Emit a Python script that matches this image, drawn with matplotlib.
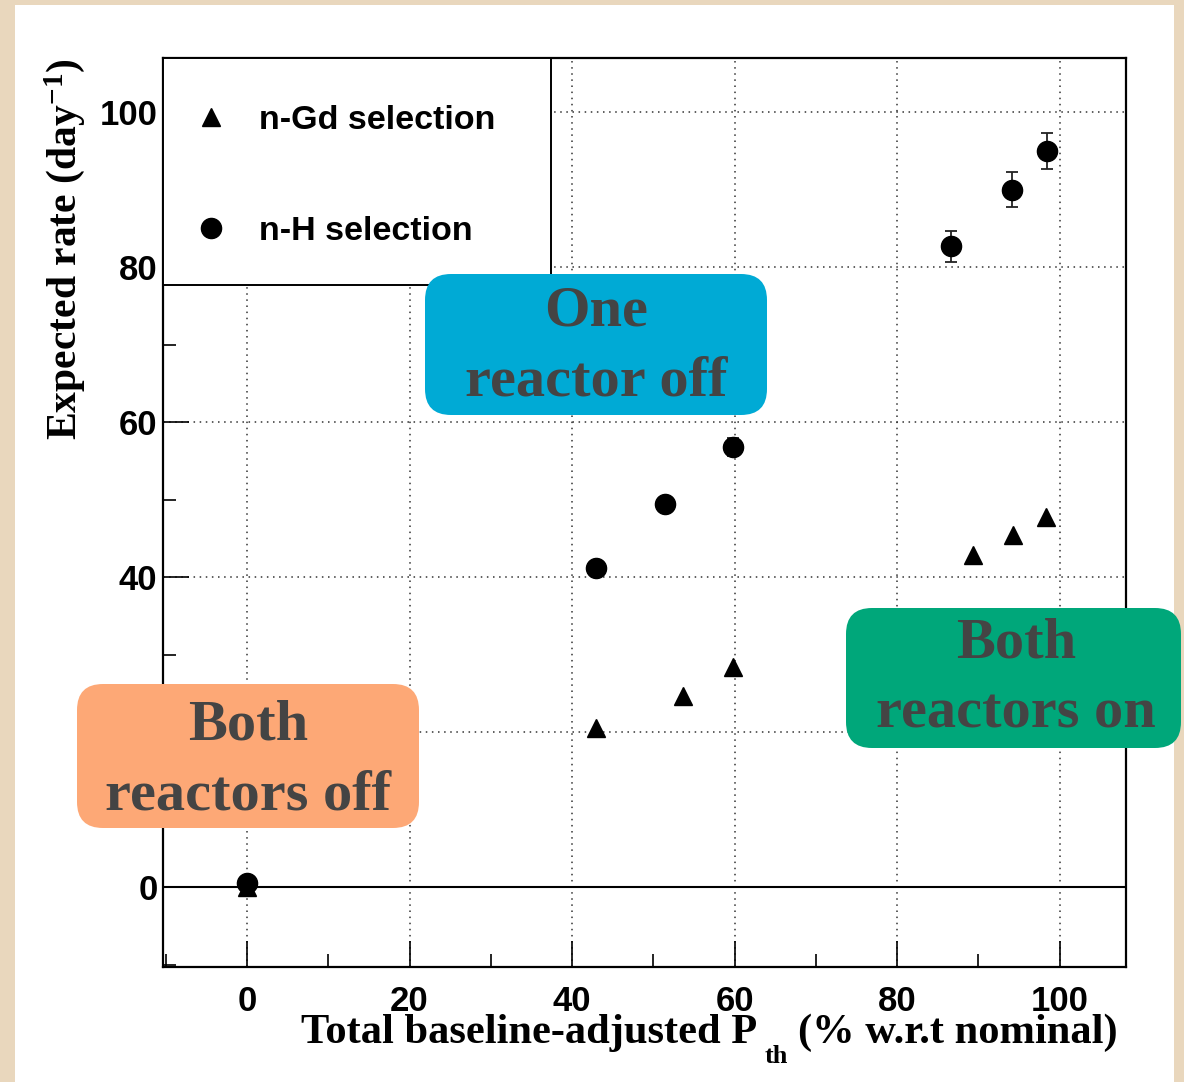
import matplotlib
matplotlib.use("Agg")
import matplotlib.pyplot as plt
from matplotlib.patches import FancyBboxPatch, Rectangle
from matplotlib.lines import Line2D
from matplotlib.ticker import MultipleLocator

# ---------------- data ----------------
power_gd = [0.0, 43.0, 53.6, 59.8, 89.4, 94.3, 98.3]
rate_gd = [0.0, 20.5, 24.6, 28.4, 42.8, 45.4, 47.8]
power_h = [0.0, 43.0, 51.4, 59.8, 86.7, 94.1, 98.4]
rate_h = [0.5, 41.1, 49.4, 56.8, 82.7, 90.0, 95.0]
err_h = [0.3, 0.5, 0.6, 1.2, 2.0, 2.2, 2.3]
legend_labels = ["n-Gd selection", "n-H selection"]
xticks = [0, 20, 40, 60, 80, 100]
yticks = [0, 20, 40, 60, 80, 100]
region_labels = ["One\nreactor off", "Both\nreactors on", "Both\nreactors off"]
region_colors = ["#00AAD5", "#00A77A", "#FDA876"]

# ---------------- style ----------------
W, H, DPI = 1184, 1082, 100
plt.rcParams["font.family"] = ["Liberation Sans", "DejaVu Sans"]
plt.rcParams["font.weight"] = "bold"
plt.rcParams["mathtext.fontset"] = "custom"
plt.rcParams["mathtext.rm"] = "Liberation Serif:bold"
plt.rcParams["mathtext.it"] = "Liberation Serif:bold"
plt.rcParams["mathtext.bf"] = "Liberation Serif:bold"

fig = plt.figure(figsize=(W / DPI, H / DPI), dpi=DPI, facecolor="#E9D7BD")
pix = fig.dpi_scale_trans  # inches


def P(x, y):
    """pixel (from top-left) -> inches (from bottom-left)"""
    return x / DPI, (H - y) / DPI


# white sheet
x0, y0 = P(15, 1082)
fig.add_artist(Rectangle((x0, y0), (1174 - 15) / DPI, (1082 - 5) / DPI,
                         transform=pix, facecolor="white", edgecolor="none", zorder=-5))

ax = fig.add_axes([163 / W, (H - 967) / H, (1126 - 163) / W, (967 - 58) / H])
ax.set_facecolor("white")
ax.set_xlim(-10.34, 108.18)
ax.set_ylim(-10.32, 106.97)

ax.set_xticks(xticks)
ax.set_yticks(yticks)
ax.xaxis.set_minor_locator(MultipleLocator(10))
ax.yaxis.set_minor_locator(MultipleLocator(10))
ax.tick_params(which="major", direction="in", length=19, width=1.2,
               top=False, right=False, labelsize=25)
ax.tick_params(which="minor", direction="in", length=9.5, width=1.2,
               top=False, right=False)
ax.tick_params(axis="x", pad=13)
ax.tick_params(axis="y", pad=4)
for lab in ax.get_xticklabels() + ax.get_yticklabels():
    lab.set_fontweight("bold")
for s in ax.spines.values():
    s.set_linewidth(1.6)

ax.grid(True, which="major", linestyle=(0, (1, 3)), linewidth=1.1, color="#333333")
ax.axhline(0, color="black", linewidth=1.5, zorder=1.6)

# data
ax.plot(power_gd, rate_gd, linestyle="none", marker="^", markersize=13.5,
        color="black", zorder=3)
ax.errorbar(power_h, rate_h, yerr=err_h, fmt="o", markersize=14.5, color="black",
            ecolor="#222222", elinewidth=1.3, capsize=4, capthick=1.3, zorder=3)

# legend
ax.add_patch(Rectangle((0, 0.750), 0.403, 0.25, transform=ax.transAxes,
                       facecolor="white", edgecolor="black", linewidth=1.4,
                       zorder=4, clip_on=False))
handles = [Line2D([], [], marker="^", ls="none", color="black", markersize=13.5),
           Line2D([], [], marker="o", ls="none", color="black", markersize=14.5)]
leg = ax.legend(handles, legend_labels, loc="center left",
                bbox_to_anchor=(0.0332, 0.8702), frameon=False,
                prop={"family": "Liberation Sans", "weight": "bold", "size": 24.5},
                labelspacing=2.33, handlelength=0.95, handletextpad=0.92,
                borderpad=0, borderaxespad=0)
leg.set_zorder(5)

# axis labels
serif = {"family": "Liberation Serif", "weight": "bold"}
fig.text(*P(65, 58), "Expected rate (day$^{-1}$)", transform=pix, rotation=90,
         ha="center", va="top", fontsize=30, **serif)
fig.text(*P(757, 1043), "Total baseline-adjusted P", transform=pix,
         ha="right", va="baseline", fontsize=30.6, **serif)
fig.text(*P(765, 1063), "th", transform=pix, ha="left", va="baseline",
         fontsize=19, **serif)
fig.text(*P(1118, 1043), "(% w.r.t nominal)", transform=pix, ha="right",
         va="baseline", fontsize=30.6, **serif)

# region boxes
boxes = [(425, 274, 767, 415), (846, 608, 1181, 748), (77, 684, 419, 828)]
centers = [(596, 346), (1016, 679), (248, 760)]
for (bx0, by0, bx1, by1), (cx, cy), lab, col in zip(boxes, centers, region_labels, region_colors):
    lx, ly = P(bx0, by1)
    fig.add_artist(FancyBboxPatch((lx, ly), (bx1 - bx0) / DPI, (by1 - by0) / DPI,
                                  boxstyle="round,pad=0,rounding_size=0.26",
                                  transform=pix, facecolor=col, edgecolor="none",
                                  zorder=6))
    fig.text(*P(cx, cy), lab, transform=pix, ha="center", va="center",
             fontsize=42, color="#444444", linespacing=1.45, zorder=7, **serif)

fig.savefig("out.png", dpi=DPI)
